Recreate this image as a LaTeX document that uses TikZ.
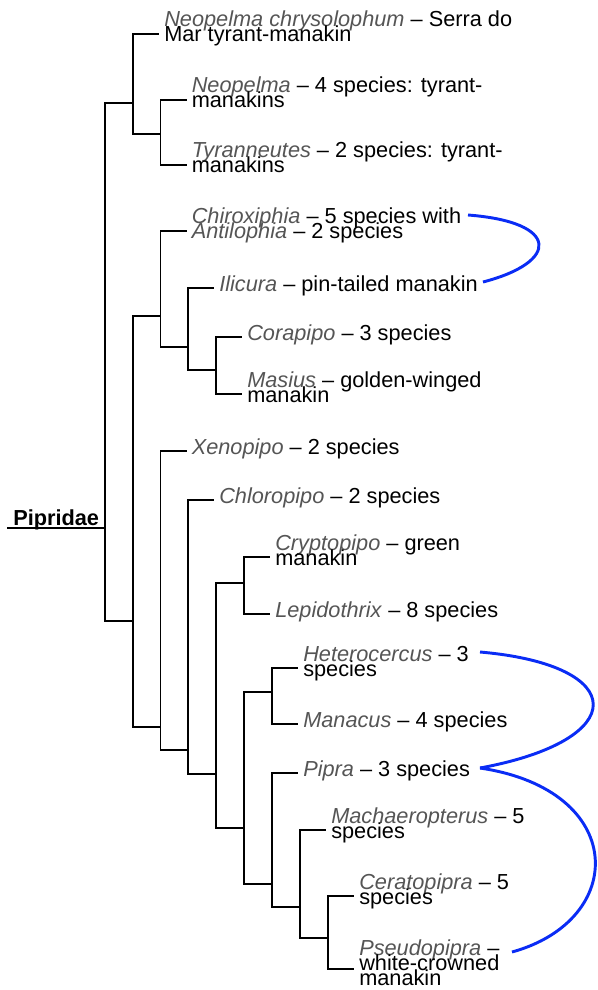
\documentclass[tikz,border=0pt]{standalone}
\usepackage{fontspec}
\setmainfont{Liberation Sans}
\usepackage{xcolor}
\usetikzlibrary{calc}
\usetikzlibrary{positioning}

\definecolor{genus}{HTML}{555555}
\definecolor{link}{HTML}{0A2CF5}
\newcommand{\gn}[1]{\textcolor{genus}{\textit{#1}}}
\newcommand{\lblfont}{\fontsize{16.3}{11.25}\selectfont\setlength{\lineskiplimit}{-50pt}\setlength{\lineskip}{0pt}}

\begin{document}
\begin{tikzpicture}[
	x=0.75pt, y=-0.75pt,
	lbl/.style = {anchor=base west, inner sep=0pt, align=left, font=\lblfont},
	fam/.style = {anchor=base west, inner sep=0pt, font=\fontsize{16.3}{11.25}\selectfont\bfseries},
	br/.style  = {line width=1.3pt},
	lnk/.style = {draw=link, line width=2.2pt}
	]
	\useasboundingbox (0, 0) rectangle (597, 990);
	
	
	% === === Clades === ===
	\coordinate	(stem)	at	(7, 528);
	\coordinate	(pip)	at	(105, 528);
	\coordinate	(neo)	at	(133, 103);
	\coordinate	(neot)	at	(160.5, 134);
	\coordinate	(rest)	at	(133, 621);
	\coordinate	(chir)	at	(160.5, 316);
	\coordinate	(ilic)	at	(188, 347);
	\coordinate	(cora)	at	(216, 370);
	\coordinate	(xeno)	at	(160.5, 727);
	\coordinate	(chlo)	at	(188, 750);
	\coordinate	(cryp)	at	(216, 774);
	\coordinate	(lepi)	at	(244, 583);
	\coordinate	(hete)	at	(244, 828);
	\coordinate	(mana)	at	(272, 692);
	\coordinate	(pipr)	at	(272, 884);
	\coordinate	(mach)	at	(300, 907);
	\coordinate	(cera)	at	(328, 938);
	
	% === === Tips === ===
	\coordinate	(tchry)	at	(159, 34);
	\coordinate	(tneop)	at	(186.5, 100);
	\coordinate	(ttyra)	at	(186.5, 165);
	\coordinate	(tchir)	at	(186.5, 231);
	\coordinate	(tilic)	at	(214, 288);
	\coordinate	(tcora)	at	(242, 337);
	\coordinate	(tmasi)	at	(242, 394);
	\coordinate	(txeno)	at	(186.5, 451);
	\coordinate	(tchlo)	at	(214, 500);
	\coordinate	(tcryp)	at	(270, 557);
	\coordinate	(tlepi)	at	(270, 614);
	\coordinate	(thete)	at	(298, 668);
	\coordinate	(tmana)	at	(298, 724);
	\coordinate	(tpipr)	at	(298, 773);
	\coordinate	(tmach)	at	(326, 830);
	\coordinate	(tcera)	at	(354, 896);
	\coordinate	(tpseu)	at	(354, 969);
	
	
	% === === Nodes === ===
	% (base = last line)
	\node[fam]	(fami)	at	(13, 525)	{Pipridae};
	
	\node[lbl]	(nchry)	at	(164, 41)	{\gn{Neopelma chrysolophum} – Serra do\\Mar tyrant-manakin};
	\node[lbl]	(nneop)	at	(191.5, 107)	{\gn{Neopelma} – 4 species: tyrant-\\manakins};
	\node[lbl]	(ntyra)	at	(191.5, 172)	{\gn{Tyranneutes} – 2 species: tyrant-\\manakins};
	\node[lbl]	(nchir)	at	(191.5, 238)	{\gn{Chiroxiphia} – 5 species with\\\gn{Antilophia} – 2 species};
	\node[lbl]	(nilic)	at	(219, 291)	{\gn{Ilicura} – pin-tailed manakin};
	\node[lbl]	(ncora)	at	(247, 340)	{\gn{Corapipo} – 3 species};
	\node[lbl]	(nmasi)	at	(247, 402)	{\gn{Masius} – golden-winged\\manakin};
	\node[lbl]	(nxeno)	at	(191.5, 454)	{\gn{Xenopipo} – 2 species};
	\node[lbl]	(nchlo)	at	(219, 503)	{\gn{Chloropipo} – 2 species};
	\node[lbl]	(ncryp)	at	(275, 565)	{\gn{Cryptopipo} – green\\manakin};
	\node[lbl]	(nlepi)	at	(275, 617)	{\gn{Lepidothrix} – 8 species};
	\node[lbl]	(nhete)	at	(303, 676)	{\gn{Heterocercus} – 3\\species};
	\node[lbl]	(nmana)	at	(303, 727)	{\gn{Manacus} – 4 species};
	\node[lbl]	(npipr)	at	(303, 776)	{\gn{Pipra} – 3 species};
	\node[lbl]	(nmach)	at	(331, 838)	{\gn{Machaeropterus} – 5\\species};
	\node[lbl]	(ncera)	at	(359, 904)	{\gn{Ceratopipra} – 5\\species};
	\node[lbl]	(npseu)	at	(359, 985)	{\gn{Pseudopipra} –\\white-crowned\\manakin};
	
	% link ends
	\coordinate	(kchir)	at	(468, 215);
	\coordinate	(kilic)	at	(483, 282);
	\coordinate	(khete)	at	(480, 652);
	\coordinate	(kpipr)	at	(480, 768);
	\coordinate	(kpseu)	at	(512, 952);
	
	
	% === === Lines === ===
	\draw[br]	(stem)	--	(pip);
	\draw[br]	(pip)	|-	(neo);
	\draw[br]	(pip)	|-	(rest);
	
	\draw[br]	(neo)	|-	(tchry);
	\draw[br]	(neo)	|-	(neot);
	\draw[br]	(neot)	|-	(tneop);
	\draw[br]	(neot)	|-	(ttyra);
	
	\draw[br]	(rest)	|-	(chir);
	\draw[br]	(rest)	|-	(xeno);
	\draw[br]	(chir)	|-	(tchir);
	\draw[br]	(chir)	|-	(ilic);
	\draw[br]	(ilic)	|-	(tilic);
	\draw[br]	(ilic)	|-	(cora);
	\draw[br]	(cora)	|-	(tcora);
	\draw[br]	(cora)	|-	(tmasi);
	
	\draw[br]	(xeno)	|-	(txeno);
	\draw[br]	(xeno)	|-	(chlo);
	\draw[br]	(chlo)	|-	(tchlo);
	\draw[br]	(chlo)	|-	(cryp);
	\draw[br]	(cryp)	|-	(lepi);
	\draw[br]	(cryp)	|-	(hete);
	\draw[br]	(lepi)	|-	(tcryp);
	\draw[br]	(lepi)	|-	(tlepi);
	\draw[br]	(hete)	|-	(mana);
	\draw[br]	(hete)	|-	(pipr);
	\draw[br]	(mana)	|-	(thete);
	\draw[br]	(mana)	|-	(tmana);
	\draw[br]	(pipr)	|-	(tpipr);
	\draw[br]	(pipr)	|-	(mach);
	\draw[br]	(mach)	|-	(tmach);
	\draw[br]	(mach)	|-	(cera);
	\draw[br]	(cera)	|-	(tcera);
	\draw[br]	(cera)	|-	(tpseu);
	
	\draw[lnk]	(kchir)	.. controls (560, 222) and (560, 262) ..	(kilic);
	\draw[lnk]	(khete)	.. controls (630, 665) and (632, 740) ..	(kpipr);
	\draw[lnk]	(kpipr)	.. controls (628, 790) and (628, 920) ..	(kpseu);
	
	
\end{tikzpicture}
\end{document}
